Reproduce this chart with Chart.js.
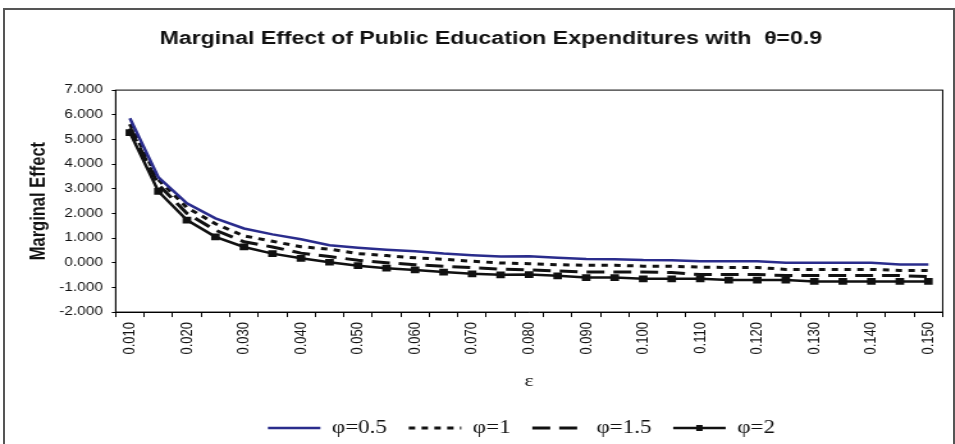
<!DOCTYPE html>
<html>
<head>
<meta charset="utf-8">
<script src="https://cdn.jsdelivr.net/npm/chart.js@4"></script>
<style>
  html, body { margin: 0; padding: 0; background: #fff; overflow: hidden; }
  #wrap { position: relative; width: 955px; height: 444px; }
  #frame { position: absolute; left: 3px; top: 8px; width: 948px; height: 450px; border: 2px solid #555; }
  /* the original chart text is drawn wide, so the canvas is stretched sideways */
  canvas { position: absolute; left: 0; top: 0; transform: scaleX(1.28); transform-origin: 0 0; }
</style>
</head>
<body>
<div id="wrap">
  <div id="frame"></div>
  <canvas id="marginalChart" width="746" height="444"></canvas>
</div>
<script>
// Chart data
const epsilon = ['0.010', '0.015', '0.020', '0.025', '0.030', '0.035', '0.040', '0.045', '0.050', '0.055',
                 '0.060', '0.065', '0.070', '0.075', '0.080', '0.085', '0.090', '0.095', '0.100', '0.105',
                 '0.110', '0.115', '0.120', '0.125', '0.130', '0.135', '0.140', '0.145', '0.150'];
const phi05 = [5.86, 3.46, 2.41, 1.80, 1.39, 1.15, 0.95, 0.71, 0.61, 0.53, 0.47, 0.37, 0.30, 0.25, 0.26,
               0.20, 0.15, 0.14, 0.11, 0.10, 0.06, 0.06, 0.06, 0.00, 0.00, 0.00, 0.00, -0.07, -0.07];
const phi1 = [5.62, 3.37, 2.24, 1.58, 1.09, 0.87, 0.65, 0.55, 0.37, 0.29, 0.20, 0.14, 0.06, -0.01, -0.04,
              -0.08, -0.10, -0.10, -0.14, -0.14, -0.18, -0.19, -0.19, -0.27, -0.27, -0.27, -0.27, -0.31, -0.31];
const phi15 = [5.45, 3.17, 2.00, 1.32, 0.85, 0.64, 0.39, 0.25, 0.10, 0.00, -0.08, -0.14, -0.20, -0.26, -0.29,
               -0.33, -0.38, -0.38, -0.38, -0.40, -0.48, -0.48, -0.48, -0.52, -0.52, -0.52, -0.52, -0.52, -0.56];
const phi2 = [5.28, 2.89, 1.73, 1.05, 0.64, 0.37, 0.18, 0.02, -0.12, -0.22, -0.29, -0.38, -0.45, -0.49, -0.48,
              -0.53, -0.60, -0.60, -0.65, -0.65, -0.65, -0.70, -0.70, -0.70, -0.76, -0.76, -0.76, -0.76, -0.76];
const yTicks = [-2, -1, 0, 1, 2, 3, 4, 5, 6, 7];

const legendLine = 41;

// Center the legend under the plot area instead of the whole canvas
const legendShift = {
    id: 'legendShift',
    afterLayout(chart) {
        const lg = chart.legend;
        const a = chart.chartArea;
        const d = (a.left + a.right) / 2 - (lg.left + lg.right) / 2 - 6;
        lg.left += d;
        lg.right += d;
    }
};

// Border around the plot area + marker on the last legend line
const plotBorder = {
    id: 'plotBorder',
    afterDraw(chart) {
        const { ctx, chartArea: a } = chart;
        ctx.save();
        ctx.strokeStyle = '#000';
        ctx.lineWidth = 1;
        ctx.strokeRect(a.left, a.top, a.right - a.left, a.bottom - a.top);
        const boxes = chart.legend.legendHitBoxes;
        if (boxes && boxes[3]) {
            const b = boxes[3];
            const cx = b.left + legendLine / 2;
            const cy = b.top + b.height / 2;
            ctx.fillStyle = '#111';
            ctx.fillRect(cx - 2.5, cy - 3, 5, 6);
        }
        ctx.restore();
    }
};

const marginalChart = document.getElementById('marginalChart');
new Chart(marginalChart, {
    type: 'line',
    data: {
        labels: epsilon,
        datasets: [
            {
                label: 'φ=0.5',
                data: phi05,
                borderColor: '#2a2c8c',
                backgroundColor: '#2a2c8c',
                borderWidth: 2.5,
                pointRadius: 0,
                tension: 0
            },
            {
                label: 'φ=1',
                data: phi1,
                borderColor: '#111',
                backgroundColor: '#111',
                borderWidth: 3,
                borderDash: [5, 5],
                pointRadius: 0,
                tension: 0
            },
            {
                label: 'φ=1.5',
                data: phi15,
                borderColor: '#111',
                backgroundColor: '#111',
                borderWidth: 3,
                borderDash: [14, 7],
                pointRadius: 0,
                tension: 0
            },
            {
                label: 'φ=2',
                data: phi2,
                borderColor: '#111',
                backgroundColor: '#111',
                borderWidth: 2.5,
                pointStyle: 'rect',
                pointRadius: 3,
                tension: 0
            }
        ]
    },
    options: {
        responsive: false,
        animation: false,
        devicePixelRatio: 1,
        layout: {
            padding: { left: 21, right: 0, top: 0, bottom: -3 }
        },
        plugins: {
            title: {
                display: true,
                text: 'Marginal Effect of Public Education Expenditures with  θ=0.9',
                color: '#111',
                font: { family: 'Arial, "Liberation Sans"', size: 18, weight: 'bold' },
                padding: { top: 28, bottom: 40.5 }
            },
            legend: {
                position: 'bottom',
                labels: {
                    usePointStyle: true,
                    pointStyle: 'line',
                    pointStyleWidth: legendLine,
                    color: '#111',
                    padding: 17,
                    font: { family: '"Liberation Serif", "Times New Roman", serif', size: 18 },
                    generateLabels(chart) {
                        return chart.data.datasets.map((ds, i) => ({
                            text: ds.label,
                            fillStyle: ds.borderColor,
                            strokeStyle: ds.borderColor,
                            lineWidth: ds.borderWidth,
                            lineDash: ds.borderDash || [],
                            pointStyle: 'line',
                            fontColor: '#111',
                            datasetIndex: i
                        }));
                    }
                }
            },
            tooltip: { enabled: false }
        },
        scales: {
            x: {
                offset: true,
                grid: { offset: true, drawOnChartArea: false, tickLength: 5, color: '#000' },
                border: { color: '#000', width: 1 },
                title: {
                    display: true,
                    text: 'ε',
                    color: '#111',
                    font: { family: '"Liberation Serif", "Times New Roman", serif', size: 17 },
                    padding: { top: 12, bottom: 10 }
                },
                ticks: {
                    autoSkip: false,
                    maxRotation: 90,
                    minRotation: 90,
                    padding: 5,
                    color: '#111',
                    font: { family: 'Arial, "Liberation Sans"', size: 13 },
                    callback(value, index) {
                        return index % 2 === 0 ? epsilon[index] : '';
                    }
                }
            },
            y: {
                min: yTicks[0],
                max: yTicks[yTicks.length - 1],
                grid: { drawOnChartArea: false, tickLength: 3, color: '#000' },
                border: { color: '#000', width: 1 },
                afterBuildTicks(axis) {
                    axis.ticks = yTicks.map(v => ({ value: v }));
                },
                title: {
                    display: true,
                    text: 'Marginal Effect',
                    color: '#111',
                    font: { family: 'Arial, "Liberation Sans"', size: 16.5, weight: 'bold' },
                    padding: { top: 0, bottom: -1.5 }
                },
                ticks: {
                    padding: 7,
                    color: '#111',
                    font: { family: 'Arial, "Liberation Sans"', size: 12 },
                    callback(value) {
                        return value.toFixed(3);
                    }
                }
            }
        }
    },
    plugins: [legendShift, plotBorder]
});
</script>
</body>
</html>
